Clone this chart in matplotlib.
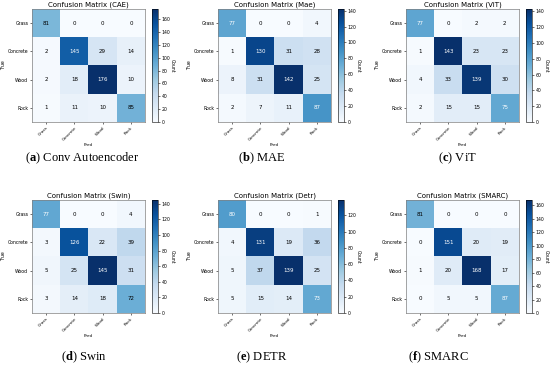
import numpy as np
import matplotlib.pyplot as plt

plt.rcParams['mathtext.fontset'] = 'custom'
plt.rcParams['mathtext.rm'] = 'Liberation Serif'
plt.rcParams['mathtext.bf'] = 'Liberation Serif:bold'

classes = ["Grass", "Concrete", "Wood", "Rock"]
titles = ["CAE", "Mae", "ViT", "Swin", "Detr", "SMARC"]
captions = ["Conv Autoencoder", "MAE", "ViT", "Swin", "DETR", "SMARC"]
letters = ["a", "b", "c", "d", "e", "f"]

cm_cae = [[81, 0, 0, 0], [2, 145, 29, 14], [2, 18, 176, 10], [1, 11, 10, 85]]
cm_mae = [[77, 0, 0, 4], [1, 130, 31, 28], [8, 31, 142, 25], [2, 7, 11, 87]]
cm_vit = [[77, 0, 2, 2], [1, 143, 23, 23], [4, 33, 139, 30], [2, 15, 15, 75]]
cm_swin = [[77, 0, 0, 4], [3, 126, 22, 39], [5, 25, 145, 31], [3, 14, 18, 72]]
cm_detr = [[80, 0, 0, 1], [4, 131, 19, 36], [5, 37, 139, 25], [5, 15, 14, 73]]
cm_smarc = [[81, 0, 0, 0], [0, 151, 20, 19], [1, 20, 168, 17], [0, 5, 5, 87]]
matrices = [cm_cae, cm_mae, cm_vit, cm_swin, cm_detr, cm_smarc]

W, H = 550, 367
fig = plt.figure(figsize=(W / 100, H / 100), dpi=100)

# pixel positions of each heatmap (left) and rows (top)
lefts = [32, 218, 406]
tops = [9, 200]
size = 113
cap_x = [82, 262, 457, 84, 262, 438]
cap_y = [158, 357]


def px(x, y, w, h):
    return [x / W, 1 - (y + h) / H, w / W, h / H]


for i, cm in enumerate(matrices):
    cm = np.array(cm)
    r, c = divmod(i, 3)
    x0, y0 = lefts[c], tops[r]
    ax = fig.add_axes(px(x0, y0, size, size))
    im = ax.imshow(cm, cmap="Blues", vmin=0, vmax=cm.max(), aspect="auto")
    thr = cm.max() / 2
    for a in range(4):
        for b in range(4):
            ax.text(b, a, str(cm[a, b]), ha="center", va="center", fontsize=4,
                    color="white" if cm[a, b] > thr else "black")
    ax.set_xticks(range(4))
    ax.set_yticks(range(4))
    ax.set_xticklabels(classes, rotation=45, ha="right", rotation_mode="anchor", fontsize=3)
    ax.set_yticklabels(classes, fontsize=3.3)
    ax.tick_params(length=1.5, width=0.4, pad=1.2)
    for s in ax.spines.values():
        s.set_color("gray")
        s.set_linewidth(0.5)
    ax.set_title(f"Confusion Matrix ({titles[i]})", fontsize=5, pad=2)
    ax.set_xlabel("Pred", fontsize=3, labelpad=1)
    ax.set_ylabel("True", fontsize=3.3, labelpad=1)

    cax = fig.add_axes(px(x0 + size + 7, y0, 6, size))
    cb = fig.colorbar(im, cax=cax, ticks=np.arange(0, cm.max() + 1, 20))
    cb.ax.tick_params(labelsize=3.3, length=1.5, width=0.4, pad=1.2)
    cb.outline.set_linewidth(0.4)
    cb.set_label("Count", rotation=270, fontsize=3.3, labelpad=3)

    fig.text(cap_x[i] / W, 1 - cap_y[r] / H,
             "(" + r"$\mathbf{" + letters[i] + "}$" + ") " + captions[i],
             ha="center", va="center", fontsize=9, family="Liberation Serif")

fig.savefig("out.png", dpi=100)
